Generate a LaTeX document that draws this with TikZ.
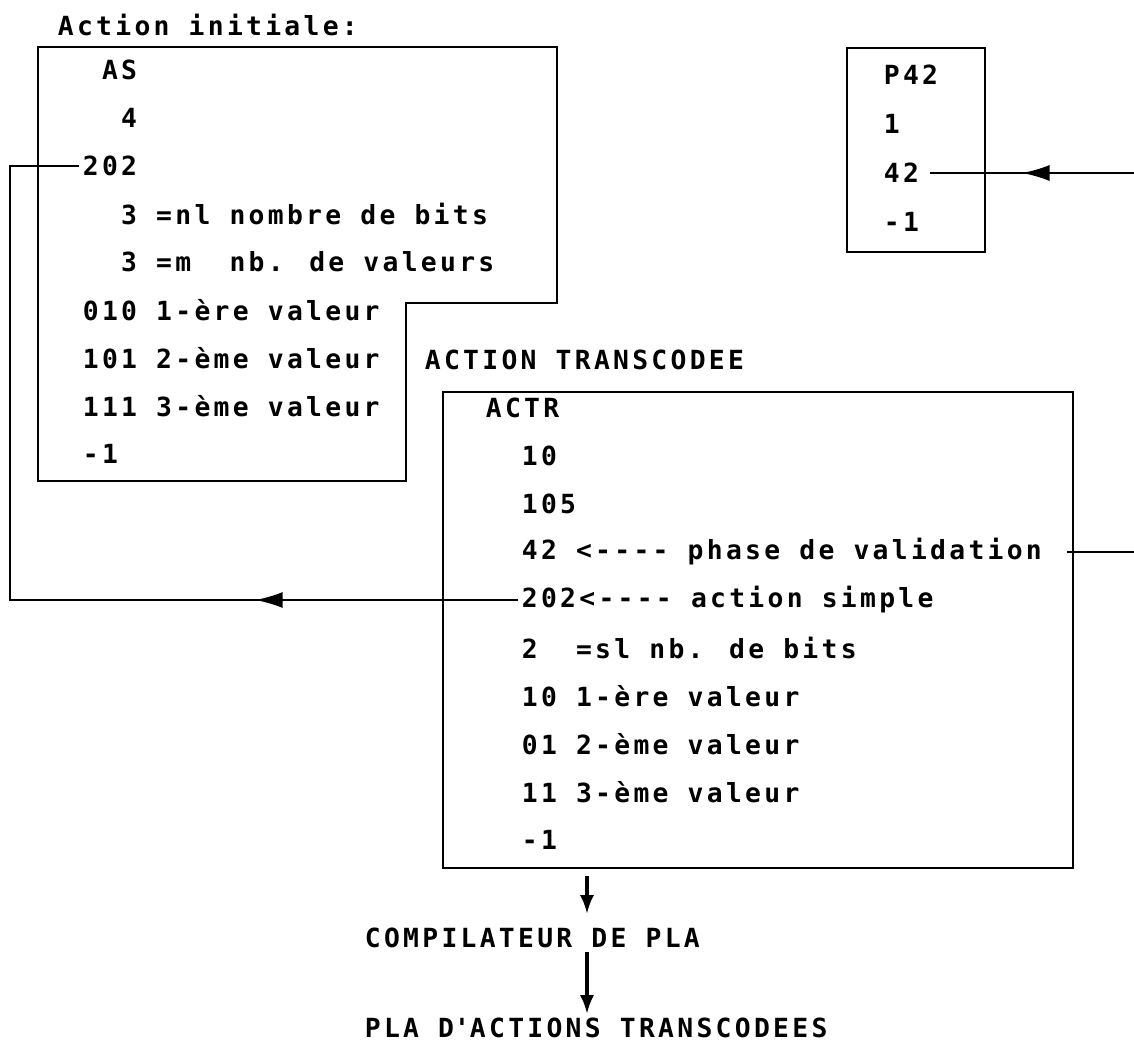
\documentclass[tikz,border=0pt]{standalone}
\usepackage{fontspec}
\newfontfamily\typo[LetterSpace=12.5]{DejaVu Sans Mono}
\usetikzlibrary{arrows.meta, decorations.markings}

\begin{document}
\begin{tikzpicture}[x=0.02cm, y=-0.02cm,
  txt/.style={anchor=west, inner sep=2pt, font=\typo\bfseries\fontsize{15}{18}\selectfont},
  frame/.style={draw, line width=1.6pt, inner sep=0pt},
  link/.style={line width=1.1pt},
  midarrow/.style={postaction={decorate, decoration={markings, mark=at position #1 with {\arrow{Latex[length=0.55cm, width=0.32cm]}}}}},
  down/.style={line width=2pt, -{Latex[length=0.38cm, width=0.28cm]}}]
  \path[use as bounding box, fill=white] (0,0) rectangle (1134,1048);
  \coordinate (edge) at (1134,0);
  \coordinate (rail) at (10,0);
  \coordinate (col) at (587,0);

  % action initiale
  \node[txt] (title) at (54,25) {Action initiale:};
  \draw[line width=1.6pt] (38,47) -- (557,47) -- (557,303) -- (406,303) -- (406,481) -- (38,481) -- cycle;
  \foreach \t [count=\i] in {~AS, ~~4, 202, ~~3 =nl nombre de bits, ~~3 =m~ nb. de valeurs,
      010 1-ère valeur, 101 2-ème valeur, 111 3-ème valeur, -1}
    \node[txt] (as\i) at (79,22+48*\i) {\t};

  % P42
  \node[frame, minimum width=2.76cm, minimum height=4.08cm] (pbox) at (916,150) {};
  \foreach \t [count=\i] in {P42, 1, 42, -1}
    \node[txt] (p\i) at (880,26+49*\i) {\t};

  % action transcodee
  \node[txt] (trtitle) at (421,360) {ACTION TRANSCODEE};
  \node[frame, minimum width=12.6cm, minimum height=9.52cm] (actrbox) at (758,630) {};
  \node[txt] (actr) at (482,408) {ACTR};
  \foreach \t [count=\i] in {10, 105, 42 <-{}-{}-{}- phase de validation, 202<-{}-{}-{}- action simple,
      2~ =sl nb. de bits, 10 1-ère valeur, 01 2-ème valeur, 11 3-ème valeur, -1}
    \node[txt] (tr\i) at (518,408+48*\i) {\t};

  \node[txt] (compil) at (361,938) {COMPILATEUR DE PLA};
  \node[txt] (pla) at (361,1028) {PLA D\textquotesingle ACTIONS TRANSCODEES};

  \draw[link, midarrow=0.26] (tr4.west) -- (rail |- tr4.west) |- (as3.west);
  \draw[link] ([xshift=-0.14cm]actrbox.east |- tr3.east) -- (edge |- tr3.east);
  \draw[link, midarrow=0.53, shorten >=0.15cm] (edge |- p3.east) -- (p3.east);
  \draw[down, shorten <=0.14cm, shorten >=0.2cm] (actrbox.south -| col) -- (compil.north -| col);
  \draw[down] (compil.south -| col) -- (pla.north -| col);
\end{tikzpicture}
\end{document}
